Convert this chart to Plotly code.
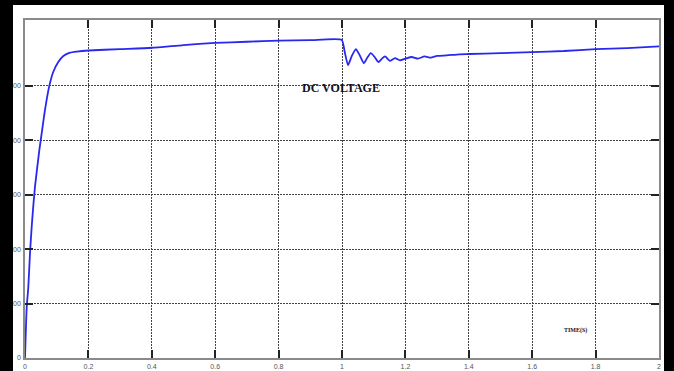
import plotly.graph_objects as go

# DC link voltage versus time
time_s = [0, 0.0054, 0.0104, 0.0158, 0.0211, 0.026, 0.0315, 0.0388, 0.0452, 0.0527,
          0.0631, 0.0767, 0.0893, 0.105, 0.121, 0.142, 0.163, 0.2, 0.3, 0.4, 0.5,
          0.6, 0.7, 0.8, 0.9, 0.999,
          1.008, 1.019, 1.031, 1.044, 1.056, 1.069, 1.080, 1.091, 1.103, 1.115,
          1.126, 1.136, 1.151, 1.167, 1.183, 1.2, 1.22, 1.24, 1.26, 1.28, 1.30,
          1.33, 1.37, 1.4, 1.5, 1.6, 1.7, 1.8, 1.9, 2.0]
voltage = [0, 93, 130, 193, 241, 278, 315, 351, 382, 413,
           456, 500, 526, 544, 555, 561, 563, 565, 567.5, 570, 575,
           579, 581, 583, 584, 584.5,
           564, 538, 555, 567.5, 556, 541.5, 552, 560, 553, 543.5,
           550, 554, 546, 551, 547, 550, 553, 550, 554, 552, 555,
           556, 558, 558.5, 560, 562, 564, 567.5, 569.5, 572.5]

x_ticks = [0, 0.2, 0.4, 0.6, 0.8, 1, 1.2, 1.4, 1.6, 1.8, 2]
x_labels = ["0", "0.2", "0.4", "0.6", "0.8", "1", "1.2", "1.4", "1.6", "1.8", "2"]
y_ticks = [0, 100, 200, 300, 400, 500]
y_labels = ["0", "100", "200", "300", "400", "500"]

fig = go.Figure()
fig.add_trace(go.Scatter(
    x=time_s, y=voltage, mode="lines",
    line=dict(color="#2828f0", width=1.8, shape="spline", smoothing=0.5),
    hoverinfo="skip", showlegend=False,
))

axis_common = dict(
    showline=True, linecolor="#8a8a8a", linewidth=1.5, mirror="allticks",
    ticks="inside", ticklen=8, tickwidth=1.5, tickcolor="#222222",
    showgrid=True, gridcolor="#444444", gridwidth=1, griddash="2px,1px",
    zeroline=False, automargin=False,
    tickfont=dict(family="Liberation Sans, Arial", size=7, color="#555555"),
)

fig.update_xaxes(range=[0, 2], tickvals=x_ticks, ticktext=x_labels,
                 ticklabelstandoff=1, **axis_common)
fig.update_yaxes(range=[0, 621], tickvals=y_ticks, ticktext=y_labels,
                 ticklabelstandoff=1, **axis_common)

fig.add_annotation(x=0.498, y=0.824, xref="paper", yref="paper",
                   text="<b>DC VOLTAGE</b>", showarrow=False,
                   font=dict(family="Liberation Serif, Times New Roman", size=12,
                             color="#111122"))
fig.add_annotation(x=0.89, y=0.066, xref="paper", yref="paper",
                   text="<b>TIME(S)</b>", showarrow=False,
                   font=dict(family="Liberation Serif, Times New Roman", size=6,
                             color="#111133"))

# black frame around the page (left, top, right strips)
W, H, L, T, PW, PH = 674, 371, 25, 20, 634, 338
def px_x(p):
    return (p - L) / PW
def px_y(p):
    return (T + PH - p) / PH
frame = [(0, 0, 13, H), (0, 0, W, 5), (664, 0, W, H)]
for x0, y0, x1, y1 in frame:
    fig.add_shape(type="rect", xref="paper", yref="paper",
                  x0=px_x(x0), x1=px_x(x1), y0=px_y(y1), y1=px_y(y0),
                  fillcolor="black", line=dict(width=0), layer="above")

fig.update_layout(
    width=W, height=H,
    margin=dict(l=L, r=W - L - PW, t=T, b=H - T - PH, autoexpand=False),
    paper_bgcolor="white", plot_bgcolor="white",
)

fig.write_html("out.html", config={"displayModeBar": False})
